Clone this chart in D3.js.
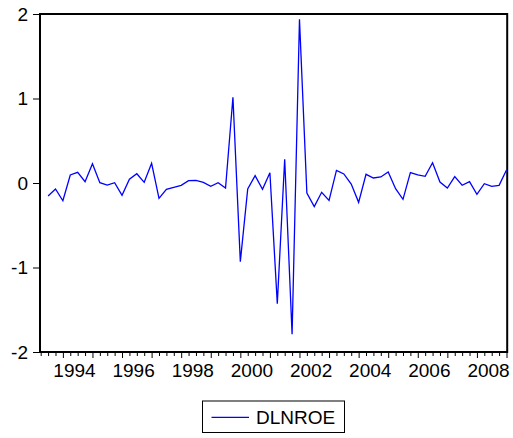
<!DOCTYPE html>
<html>
<head>
<meta charset="utf-8">
<script src="https://cdn.jsdelivr.net/npm/d3@7"></script>
<style>
  body { margin: 0; background: #fff; }
  svg { display: block; font-family: "Liberation Sans", Arial, sans-serif; }
</style>
</head>
<body>
<div id="chart"></div>
<script>
// series: DLNROE, quarterly, first value is 1993Q3 (1993Q2 is NA)
let seriesName = "DLNROE";
let firstYear = 1993;
let firstQuarter = 2;
let dlnroe = [null,
  -0.154, -0.071, -0.21, 0.095, 0.126, 0.016, 0.229, 0.004, -0.024, 0.004,
  -0.146, 0.044, 0.11, 0.008, 0.233, -0.181, -0.075, -0.051, -0.027, 0.027,
  0.032, 0.008, -0.039, 0.004, -0.059, 1.014, -0.931, -0.071, 0.087, -0.075,
  0.122, -1.428, 0.28, -1.79, 1.937, -0.12, -0.28, -0.11, -0.205, 0.15,
  0.107, -0.012, -0.229, 0.103, 0.059, 0.071, 0.13, -0.067, -0.193, 0.122,
  0.095, 0.079, 0.24, 0.012, -0.059, 0.075, -0.027, 0.016, -0.134, -0.008,
  -0.039, -0.027, 0.154
];
let yTicks = [-2, -1, 0, 1, 2];
let yearLabels = ["1994", "1996", "1998", "2000", "2002", "2004", "2006", "2008"];

// quarter labels for the x axis
let quarters = [];
dlnroe.forEach(function(v, i) {
    let q = firstQuarter - 1 + i;
    quarters.push((firstYear + Math.floor(q / 4)) + "Q" + (q % 4 + 1));
});

let svgWidth = 513;
let svgHeight = 438;
let plot = { left: 40.7, right: 506.5, top: 14, bottom: 352 };

let svg = d3.select("#chart")
    .append("svg")
    .attr("width", svgWidth)
    .attr("height", svgHeight);

let xScale = d3.scalePoint()
    .domain(quarters)
    .range([plot.left, plot.right]);

let yScale = d3.scaleLinear()
    .domain([-2, 2])
    .range([plot.bottom, plot.top]);

// x axis: tick every quarter, year label every two years (centred on the year)
let xAxis = svg.append("g")
    .attr("transform", `translate(0, ${plot.bottom})`)
    .call(d3.axisBottom(xScale)
        .tickValues(quarters)
        .tickSize(4)
        .tickFormat(d => {
            let yr = d.slice(0, 4);
            return (d.endsWith("Q1") && yearLabels.indexOf(yr) >= 0) ? yr : "";
        }));
xAxis.select(".domain").remove();
xAxis.selectAll(".tick line")
    .attr("stroke", "#000")
    .attr("y2", d => d.endsWith("Q1") ? 6 : 4);
xAxis.selectAll(".tick text")
    .attr("x", xScale.step() * 1.5)
    .attr("y", 12)
    .attr("font-size", "19px")
    .attr("fill", "#000");

// y axis
let yAxis = svg.append("g")
    .attr("transform", `translate(${plot.left - 0.7}, 0)`)
    .call(d3.axisLeft(yScale).tickValues(yTicks).tickSize(7).tickPadding(5).tickFormat(d => String(d)));
yAxis.select(".domain").remove();
yAxis.selectAll(".tick line").attr("stroke", "#000");
yAxis.selectAll(".tick text")
    .attr("font-size", "19px")
    .attr("fill", "#000");

// frame
svg.append("rect")
    .attr("x", plot.left - 0.7)
    .attr("y", plot.top)
    .attr("width", plot.right - plot.left + 1.4)
    .attr("height", plot.bottom - plot.top)
    .attr("fill", "none")
    .attr("stroke", "#000")
    .attr("stroke-width", 2);

// the series
let line = d3.line()
    .defined(d => d != null)
    .x((d, i) => xScale(quarters[i]))
    .y(d => yScale(d));

svg.append("path")
    .datum(dlnroe)
    .attr("d", line)
    .attr("fill", "none")
    .attr("stroke", "#0000ff")
    .attr("stroke-width", 1.3)
    .attr("stroke-linejoin", "miter");

// legend
let legend = svg.append("g").attr("transform", "translate(202.5, 401)");
legend.append("rect")
    .attr("width", 142)
    .attr("height", 31.5)
    .attr("fill", "#fff")
    .attr("stroke", "#000")
    .attr("stroke-width", 1);
legend.append("line")
    .attr("x1", 9).attr("x2", 46.5)
    .attr("y1", 16.3).attr("y2", 16.3)
    .attr("stroke", "#0000ff")
    .attr("stroke-width", 1.3);
legend.append("text")
    .attr("x", 53.5)
    .attr("y", 23)
    .attr("font-size", "19px")
    .attr("fill", "#000")
    .text(seriesName);
</script>
</body>
</html>
